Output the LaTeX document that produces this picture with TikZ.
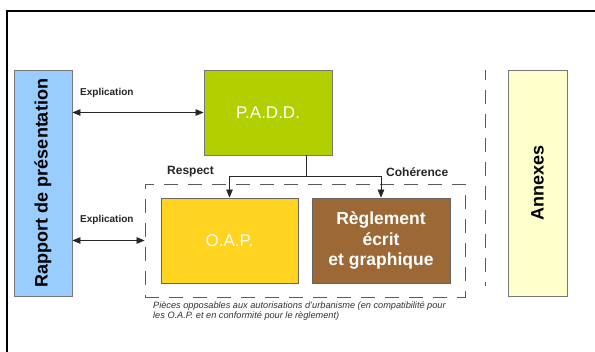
\documentclass[tikz,border=0pt]{standalone}
\usepackage{fontspec}
\setmainfont{Liberation Sans}
\usetikzlibrary{arrows.meta}
\definecolor{rapblue}{RGB}{153,204,255}
\definecolor{paddgreen}{RGB}{178,207,0}
\definecolor{oapgold}{RGB}{255,211,32}
\definecolor{regbrown}{RGB}{155,104,54}
\definecolor{annexyellow}{RGB}{255,255,204}
\definecolor{boxborder}{RGB}{120,120,120}
\definecolor{dashgray}{RGB}{90,90,90}
\tikzset{
  blockbox/.style={draw=boxborder, line width=0.8pt, inner sep=0pt},
  biglabel/.style={font=\fontsize{18}{20}\selectfont\bfseries},
  whitelabel/.style={text=white, align=center},
  smalllabel/.style={font=\fontsize{10}{11}\selectfont\bfseries, text=black!85, inner sep=0pt, anchor=west},
  midlabel/.style={font=\fontsize{12}{13}\selectfont\bfseries, text=black!85, inner sep=0pt, anchor=west},
  dasheddiv/.style={draw=dashgray, line width=0.8pt, dash pattern=on 14pt off 10pt},
  biarrow/.style={draw=black!85, line width=0.7pt, {Triangle[length=8pt,width=6.5pt]}-{Triangle[length=8pt,width=6.5pt]}},
  downarrow/.style={draw=black!85, line width=0.7pt, -{Triangle[length=8pt,width=6.5pt]}},
}
\begin{document}
\begin{tikzpicture}[x=1pt,y=-1pt]
\useasboundingbox (0,0) rectangle (595,352);
\fill[white] (0,0) rectangle (595,352);
% frame
\draw[line width=1.6pt] (7,352) -- (7,11) -- (596,11);
% boxes
\node[blockbox, fill=rapblue, minimum width=58pt, minimum height=226pt] (rap) at (43,183) {};
\node[biglabel, rotate=90] (raptext) at (rap.center) {Rapport de présentation};
\node[blockbox, fill=paddgreen, minimum width=128pt, minimum height=85pt,
      font=\fontsize{17}{20}\selectfont, whitelabel] (padd) at (268,112.5) {P.A.D.D.};
\node[dasheddiv, minimum width=320pt, minimum height=113pt, inner sep=0pt] (pieces) at (305,240.5) {};
\node[blockbox, draw=black!60, fill=oapgold, minimum width=137pt, minimum height=85pt,
      font=\fontsize{17}{20}\selectfont, whitelabel] (oap) at (229.5,240.5) {O.A.P.};
\node[blockbox, draw=black!60, fill=regbrown, minimum width=138pt, minimum height=85pt,
      font=\fontsize{17.5}{20.5}\selectfont\bfseries, whitelabel] (reg) at (381,240.5) {Règlement\\écrit\\et graphique};
\node[blockbox, fill=annexyellow, minimum width=59pt, minimum height=226pt] (annex) at (537.5,183) {};
\node[biglabel, rotate=90] (annextext) at (annex.center) {Annexes};
% dashed divider
\coordinate (divtop) at (485,70);
\coordinate (divbot) at (485,286);
\draw[dasheddiv, dash phase=4pt] (divtop) -- (divbot);
% connectors
\draw[biarrow] (padd.west -| rap.east) -- (padd.west);
\draw[biarrow] (pieces.west -| rap.east) -- (pieces.west);
\coordinate (j) at (306,176);
\draw[draw=black!85, line width=0.7pt] (padd.south -| j) -- (j);
\draw[downarrow] (j) -| (oap.north);
\draw[downarrow] (j) -| (reg.north);
% labels
\node[smalllabel] (lab1) at (80,93) {Explication};
\node[smalllabel] (lab2) at (80,220) {Explication};
\node[midlabel] (respect) at (167,172) {Respect};
\node[midlabel] (coherence) at (386,172) {Cohérence};
\node[anchor=north west, inner sep=0pt, align=left, text=black!80,
      font=\fontsize{9.2}{9.6}\selectfont\itshape] (caption) at (153,301.5)
  {Pièces opposables aux autorisations d'urbanisme (en compatibilité pour\\les O.A.P. et en conformité pour le règlement)};
\end{tikzpicture}
\end{document}
